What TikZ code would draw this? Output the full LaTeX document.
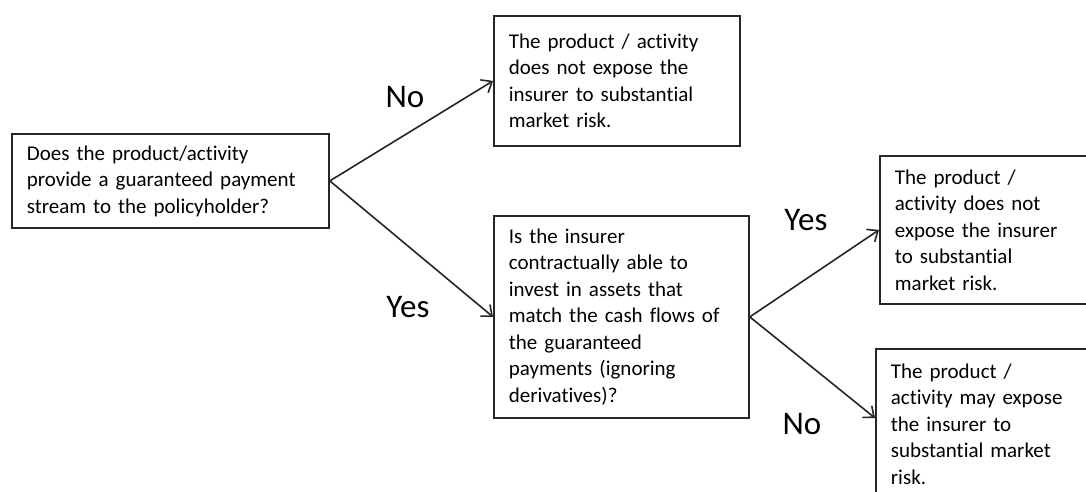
\documentclass[tikz,border=0pt]{standalone}
\usepackage{fontspec}
\setmainfont[Ligatures={NoCommon,NoRequired}]{Carlito}
\usepackage{tikz}
\usetikzlibrary{arrows.meta}

\begin{document}
\begin{tikzpicture}[x=1pt,y=-1pt,
    box/.style={draw=black!85,line width=1.8pt,align=left,anchor=north west,inner xsep=15pt,inner ysep=0pt,font=\fontsize{21}{26.5}\selectfont},
    lbl/.style={font=\fontsize{33}{40}\selectfont},
    arr/.style={-{Straight Barb[length=9pt,width=15pt]},draw=black!85,line width=1.6pt}]
    \clip (0,0) rectangle (1086,491);
    \fill[white] (0,0) rectangle (1086,491);

    % boxes
    \node[box,text width=287pt,minimum height=94pt] (q1) at (11,133) {Does the product/activity\\provide a guaranteed payment\\stream to the policyholder?};
    \node[box,text width=216pt,minimum height=130pt] (r1) at (493,15) {The product / activity\\does not expose the\\insurer to substantial\\market risk.};
    \node[box,text width=225pt,minimum height=202pt] (q2) at (493,215) {Is the insurer\\contractually able to\\invest in assets that\\match the cash flows of\\the guaranteed\\payments (ignoring\\derivatives)?};
    \node[box,text width=200pt,minimum height=148pt] (r2) at (879,155) {The product /\\activity does not\\expose the insurer\\to substantial\\market risk.};
    \node[box,text width=200pt,minimum height=150pt] (r3) at (875,348) {The product /\\activity may expose\\the insurer to\\substantial market\\risk.};
    \coordinate (r3in) at ([yshift=-70pt]r3.north west);

    % arrows
    \draw[arr] (q1.east) -- (r1.west);
    \draw[arr] (q1.east) -- (q2.west);
    \draw[arr] (q2.east) -- (r2.west);
    \draw[arr] (q2.east) -- (r3in);

    % labels
    \node[lbl] (no1) at (405,97) {No};
    \node[lbl] (yes1) at (408,307) {Yes};
    \node[lbl] (yes2) at (806,220) {Yes};
    \node[lbl] (no2) at (802,424) {No};
\end{tikzpicture}
\end{document}
